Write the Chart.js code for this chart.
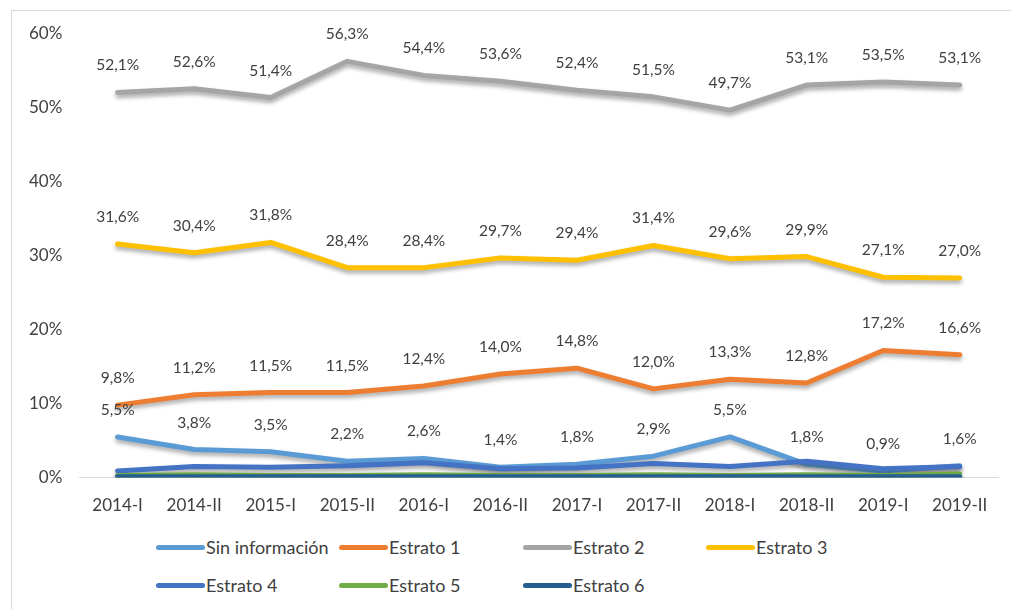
<!DOCTYPE html>
<html>
<head>
<meta charset="utf-8">
<script src="https://cdn.jsdelivr.net/npm/chart.js@4"></script>
<style>
  body { margin: 0; background: #fff; font-family: Lato, "Open Sans", sans-serif; overflow: hidden; }
  #marco { position: absolute; left: 11px; top: 10px; width: 1100px; height: 700px; border: 1px solid #d9d9d9; box-sizing: border-box; }
  #contenedor { position: absolute; left: 0; top: 0; width: 1011px; height: 526px; }
  #leyenda { position: absolute; left: 156px; top: 535px; display: grid; grid-template-columns: 183px 184px 183px 180px; row-gap: 14px; font-size: 18px; color: #404040; }
  .item { display: flex; align-items: center; height: 24px; white-space: nowrap; }
  .item span.linea { display: inline-block; width: 49px; height: 5px; border-radius: 3px; margin-right: 1px; }
</style>
</head>
<body>
<div id="marco"></div>
<div id="contenedor"><canvas id="grafico"></canvas></div>
<div id="leyenda"></div>
<script>
const periodos = ['2014-I', '2014-II', '2015-I', '2015-II', '2016-I', '2016-II', '2017-I', '2017-II', '2018-I', '2018-II', '2019-I', '2019-II'];

const sinInformacion = [5.5, 3.8, 3.5, 2.2, 2.6, 1.4, 1.8, 2.9, 5.5, 1.8, 0.9, 1.6];
const estrato1 = [9.8, 11.2, 11.5, 11.5, 12.4, 14.0, 14.8, 12.0, 13.3, 12.8, 17.2, 16.6];
const estrato2 = [52.1, 52.6, 51.4, 56.3, 54.4, 53.6, 52.4, 51.5, 49.7, 53.1, 53.5, 53.1];
const estrato3 = [31.6, 30.4, 31.8, 28.4, 28.4, 29.7, 29.4, 31.4, 29.6, 29.9, 27.1, 27.0];
const estrato4 = [0.9, 1.5, 1.4, 1.6, 2.0, 1.2, 1.3, 1.9, 1.5, 2.2, 1.2, 1.5];
const estrato5 = [0.3, 0.4, 0.3, 0.3, 0.4, 0.3, 0.3, 0.4, 0.3, 0.4, 0.3, 0.5];
const estrato6 = [0.1, 0.1, 0.1, 0.1, 0.1, 0.1, 0.1, 0.1, 0.1, 0.1, 0.1, 0.1];

const ticksY = [0, 10, 20, 30, 40, 50, 60];

const series = [
  { nombre: 'Sin información', datos: sinInformacion, color: '#5B9BD5', etiquetas: true },
  { nombre: 'Estrato 1', datos: estrato1, color: '#ED7D31', etiquetas: true },
  { nombre: 'Estrato 2', datos: estrato2, color: '#A5A5A5', etiquetas: true },
  { nombre: 'Estrato 3', datos: estrato3, color: '#FFC000', etiquetas: true },
  { nombre: 'Estrato 4', datos: estrato4, color: '#4472C4', etiquetas: false },
  { nombre: 'Estrato 5', datos: estrato5, color: '#70AD47', etiquetas: false },
  { nombre: 'Estrato 6', datos: estrato6, color: '#255E91', etiquetas: false }
];

const fmt = v => v.toFixed(1).replace('.', ',') + '%';

// sombra de las lineas como en Excel
const sombra = {
  id: 'sombra',
  beforeDatasetDraw(chart) {
    const ctx = chart.ctx;
    ctx.save();
    ctx.shadowColor = 'rgba(0,0,0,0.35)';
    ctx.shadowBlur = 4;
    ctx.shadowOffsetY = 3;
  },
  afterDatasetDraw(chart) {
    chart.ctx.restore();
  }
};

// etiquetas de datos encima de cada punto
const etiquetas = {
  id: 'etiquetas',
  afterDatasetsDraw(chart) {
    const ctx = chart.ctx;
    ctx.save();
    ctx.font = '15.5px Lato, "Open Sans", sans-serif';
    ctx.fillStyle = '#404040';
    ctx.textAlign = 'center';
    ctx.textBaseline = 'middle';
    chart.data.datasets.forEach((ds, i) => {
      if (!series[i].etiquetas) return;
      chart.getDatasetMeta(i).data.forEach((p, j) => {
        ctx.fillText(fmt(ds.data[j]), p.x, p.y - 27);
      });
    });
    ctx.restore();
  }
};

const ctx = document.getElementById('grafico').getContext('2d');
new Chart(ctx, {
  type: 'line',
  data: {
    labels: periodos,
    datasets: series.map((s, i) => ({
      label: s.nombre,
      data: s.datos,
      borderColor: s.color,
      backgroundColor: s.color,
      borderWidth: 5,
      pointRadius: 0,
      tension: 0,
      borderCapStyle: 'round',
      borderJoinStyle: 'round',
      order: series.length - i
    }))
  },
  options: {
    responsive: true,
    maintainAspectRatio: false,
    animation: false,
    layout: { padding: { left: 20, right: 13, top: 34, bottom: 0 } },
    plugins: {
      legend: { display: false },
      tooltip: { enabled: false }
    },
    scales: {
      y: {
        min: 0,
        max: 60,
        afterBuildTicks: axis => { axis.ticks = ticksY.map(v => ({ value: v })); },
        ticks: {
          color: '#404040',
          font: { size: 17, family: 'Lato, "Open Sans", sans-serif' },
          padding: 9,
          callback: v => v + '%'
        },
        grid: { display: false },
        border: { display: false }
      },
      x: {
        offset: true,
        ticks: {
          color: '#404040',
          font: { size: 17, family: 'Lato, "Open Sans", sans-serif' },
          padding: 10,
          maxRotation: 0
        },
        grid: { display: false },
        border: { display: true, color: '#d9d9d9', width: 1 }
      }
    }
  },
  plugins: [sombra, etiquetas]
});

const leyenda = document.getElementById('leyenda');
series.forEach(s => {
  const div = document.createElement('div');
  div.className = 'item';
  div.innerHTML = `<span class="linea" style="background:${s.color}"></span>${s.nombre}`;
  leyenda.appendChild(div);
});
</script>
</body>
</html>
